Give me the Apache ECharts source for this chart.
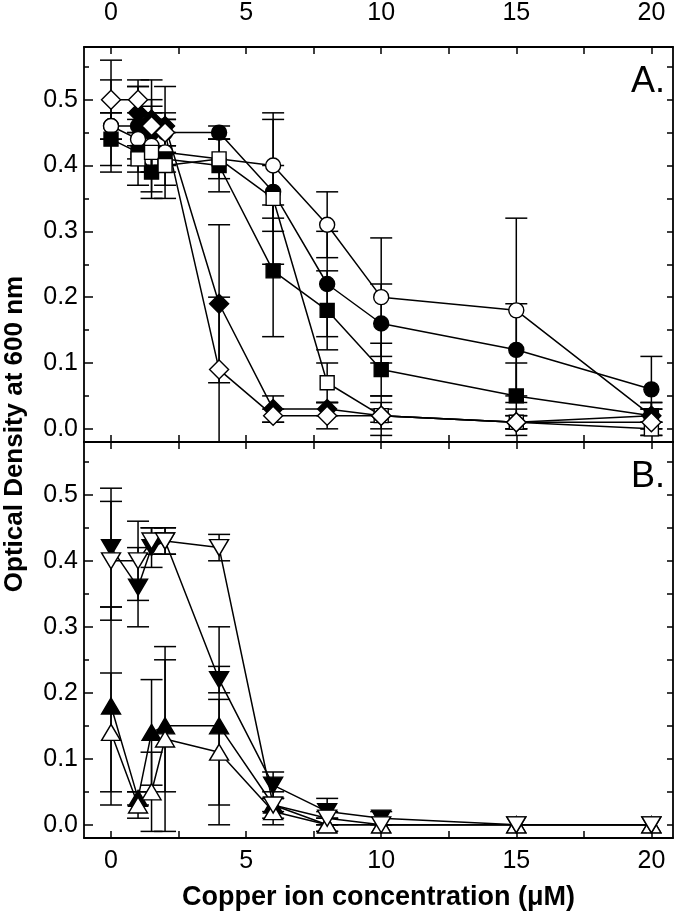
<!DOCTYPE html>
<html>
<head>
<meta charset="utf-8">
<script src="https://cdn.jsdelivr.net/npm/echarts@6/dist/echarts.min.js"></script>
<style>
  html, body { margin: 0; padding: 0; background: #fff; }
  #chart { width: 680px; height: 912px; }
</style>
</head>
<body>
<div id="chart"></div>
<script>
// copper concentrations (µM) shared by every series
const xConc = [0, 1, 1.5, 2, 4, 6, 8, 10, 15, 20];

// axis ticks / labels
const xTickLabels = [0, 5, 10, 15, 20];
const xTicks = [0, 2.5, 5, 7.5, 10, 12.5, 15, 17.5, 20];
const yTickLabels = [0, 0.1, 0.2, 0.3, 0.4, 0.5];
const yMinorTicks = [0.05, 0.15, 0.25, 0.35, 0.45, 0.55];
const yAllTicks = [0, 0.05, 0.1, 0.15, 0.2, 0.25, 0.3, 0.35, 0.4, 0.45, 0.5, 0.55];

// panel A values (null = no point) and +/- errors
const filledCircleA = [0.46, 0.46, 0.45, 0.45, 0.45, 0.36, 0.22, 0.16, 0.12, 0.06];
const filledCircleAErr = [0.02, 0.06, 0.03, 0.03, 0.01, 0.11, 0.08, 0.06, 0.07, 0.05];
const openCircleA = [0.46, 0.44, 0.43, 0.42, null, 0.40, 0.31, 0.20, 0.18, 0.02];
const openCircleAErr = [0.07, 0.03, 0.07, 0.03, 0, 0.08, 0.05, 0.09, 0.14, 0.02];
const filledSquareA = [0.44, 0.42, 0.39, 0.41, 0.40, 0.24, 0.18, 0.09, 0.05, 0.02];
const filledSquareAErr = [0.04, 0.03, 0.04, 0.06, 0.04, 0.10, 0.06, 0.04, 0.05, 0.02];
const openSquareA = [null, 0.41, 0.42, 0.40, 0.41, 0.35, 0.07, 0.02, 0.01, 0.00];
const openSquareAErr = [0, 0.04, 0.03, 0.03, 0.03, 0.05, 0.03, 0.02, 0.01, 0.01];
const filledDiamondA = [null, 0.48, 0.47, 0.46, 0.19, 0.03, 0.03, 0.02, 0.01, 0.02];
const filledDiamondAErr = [0, 0.05, 0.02, 0.06, 0.12, 0.02, 0.01, 0.01, 0.01, 0.01];
const openDiamondA = [0.50, 0.50, 0.46, 0.45, 0.09, 0.02, 0.02, 0.02, 0.01, 0.01];
const openDiamondAErr = [0.06, 0.02, 0.07, 0.02, 0.11, 0.01, 0.02, 0.03, 0.02, 0.02];

// panel B values and +/- errors
const filledDownB = [0.42, 0.36, 0.42, 0.43, 0.22, 0.06, 0.02, 0.01, 0.00, 0.00];
const filledDownBErr = [0.09, 0.06, 0.03, 0.02, 0.02, 0.02, 0.02, 0.01, 0, 0];
const openDownB = [0.40, 0.40, 0.43, 0.43, 0.42, 0.03, 0.01, 0.00, 0.00, 0.00];
const openDownBErr = [0.09, 0.06, 0.02, 0.02, 0.02, 0.02, 0.01, 0, 0, 0];
const filledUpB = [0.18, 0.04, 0.14, 0.15, 0.15, 0.03, 0.00, 0.00, 0.00, 0.00];
const filledUpBErr = [0.15, 0.01, 0.08, 0.10, 0.15, 0.01, 0.01, 0, 0, 0];
const openUpB = [0.14, 0.03, 0.05, 0.13, 0.11, 0.02, 0.00, 0.00, 0.00, 0.00];
const openUpBErr = [0.09, 0.02, 0.06, 0.14, 0.08, 0.02, 0.01, 0, 0, 0];

const FONT = "'Liberation Sans', Arial, Helvetica, sans-serif";

const chart = echarts.init(document.getElementById('chart'), null, { renderer: 'canvas' });

const points = (vals) => xConc.map((x, i) => [x, vals[i]]).filter((p) => p[1] !== null);

const errPoints = (vals, errs) =>
  xConc
    .map((x, i) => (vals[i] === null || !errs[i] ? null : [x, vals[i] - errs[i], vals[i] + errs[i]]))
    .filter(Boolean);

function errorSeries(xi, yi, vals, errs) {
  return {
    type: 'custom',
    xAxisIndex: xi,
    yAxisIndex: yi,
    clip: true,
    silent: true,
    z: 1,
    data: errPoints(vals, errs),
    renderItem: (params, api) => {
      const x = api.value(0);
      const top = api.coord([x, api.value(2)]);
      const bot = api.coord([x, api.value(1)]);
      const hw = 11;
      const st = { stroke: '#000', lineWidth: 1.5 };
      return {
        type: 'group',
        children: [
          { type: 'line', shape: { x1: top[0], y1: top[1], x2: bot[0], y2: bot[1] }, style: st },
          { type: 'line', shape: { x1: top[0] - hw, y1: top[1], x2: top[0] + hw, y2: top[1] }, style: st },
          { type: 'line', shape: { x1: bot[0] - hw, y1: bot[1], x2: bot[0] + hw, y2: bot[1] }, style: st },
        ],
      };
    },
  };
}

function lineSeries(xi, yi, vals, symbol, size, filled, rotate) {
  return {
    type: 'line',
    xAxisIndex: xi,
    yAxisIndex: yi,
    data: points(vals),
    connectNulls: true,
    symbol: symbol,
    symbolSize: size,
    symbolRotate: rotate || 0,
    showAllSymbol: true,
    z: 3,
    animation: false,
    lineStyle: { color: '#000', width: 1.5 },
    itemStyle: {
      color: filled ? '#000' : '#fff',
      borderColor: '#000',
      borderWidth: 1.4,
    },
  };
}

const xAxisBase = (grid, pos, labels) => ({
  type: 'value',
  gridIndex: grid,
  position: pos,
  min: -1,
  max: 20.8,
  axisLine: { show: true, onZero: false, lineStyle: { color: '#000', width: 1.8 } },
  axisTick: { show: true, inside: true, length: 7, customValues: xTicks, lineStyle: { color: '#000', width: 1.5 } },
  axisLabel: {
    show: labels,
    customValues: xTickLabels,
    color: '#000',
    fontSize: 25,
    fontFamily: FONT,
    margin: pos === 'top' ? 21 : 11,
  },
  splitLine: { show: false },
});

const yAxisBase = (grid, pos, ticks, len, labels, line) => ({
  type: 'value',
  gridIndex: grid,
  position: pos,
  min: -0.02,
  max: 0.58,
  axisLine: { show: line, onZero: false, lineStyle: { color: '#000', width: 1.8 } },
  axisTick: { show: true, inside: true, length: len, customValues: ticks, lineStyle: { color: '#000', width: 1.5 } },
  axisLabel: {
    show: labels,
    customValues: yTickLabels,
    formatter: (v) => v.toFixed(1),
    color: '#000',
    fontSize: 25,
    fontFamily: FONT,
    margin: 6,
  },
  splitLine: { show: false },
});

const xA = xAxisBase(0, 'top', true);
const xAbottom = xAxisBase(0, 'bottom', false);
const xBtop = xAxisBase(1, 'top', false);
const xB = xAxisBase(1, 'bottom', true);
xB.name = 'Copper ion concentration (\u03BCM)';
xB.nameLocation = 'middle';
xB.nameGap = 46;
xB.nameTextStyle = { color: '#000', fontSize: 27, fontWeight: 'bold', fontFamily: FONT };

chart.setOption({
  backgroundColor: '#fff',
  animation: false,
  grid: [
    { left: 84, top: 47, width: 589, height: 395, containLabel: false, outerBoundsMode: 'none' },
    { left: 84, top: 442, width: 589, height: 396, containLabel: false, outerBoundsMode: 'none' },
  ],
  xAxis: [xA, xAbottom, xBtop, xB],
  yAxis: [
    yAxisBase(0, 'left', yTickLabels, 9, true, true),
    yAxisBase(0, 'left', yMinorTicks, 5, false, false),
    yAxisBase(0, 'right', yAllTicks, 6, false, true),
    yAxisBase(1, 'left', yTickLabels, 9, true, true),
    yAxisBase(1, 'left', yMinorTicks, 5, false, false),
    yAxisBase(1, 'right', yAllTicks, 6, false, true),
  ],
  graphic: [
    {
      type: 'text',
      x: 15,
      y: 434,
      rotation: Math.PI / 2,
      style: {
        text: 'Optical Density at 600 nm',
        fill: '#000',
        font: 'bold 26px ' + FONT,
        textAlign: 'center',
        textVerticalAlign: 'middle',
      },
    },
    {
      type: 'text',
      x: 665,
      y: 82,
      style: { text: 'A.', fill: '#000', font: '36px ' + FONT, textAlign: 'right', textVerticalAlign: 'middle' },
    },
    {
      type: 'text',
      x: 665,
      y: 477,
      style: { text: 'B.', fill: '#000', font: '36px ' + FONT, textAlign: 'right', textVerticalAlign: 'middle' },
    },
  ],
  series: [
    // panel A error bars
    errorSeries(0, 0, filledCircleA, filledCircleAErr),
    errorSeries(0, 0, openCircleA, openCircleAErr),
    errorSeries(0, 0, filledSquareA, filledSquareAErr),
    errorSeries(0, 0, openSquareA, openSquareAErr),
    errorSeries(0, 0, filledDiamondA, filledDiamondAErr),
    errorSeries(0, 0, openDiamondA, openDiamondAErr),
    // panel A lines + markers
    lineSeries(0, 0, filledCircleA, 'circle', 15, true),
    lineSeries(0, 0, openCircleA, 'circle', 15, false),
    lineSeries(0, 0, filledSquareA, 'rect', 14, true),
    lineSeries(0, 0, openSquareA, 'rect', 14, false),
    lineSeries(0, 0, filledDiamondA, 'diamond', 19, true),
    lineSeries(0, 0, openDiamondA, 'diamond', 19, false),
    // panel B error bars
    errorSeries(3, 3, filledUpB, filledUpBErr),
    errorSeries(3, 3, openUpB, openUpBErr),
    errorSeries(3, 3, filledDownB, filledDownBErr),
    errorSeries(3, 3, openDownB, openDownBErr),
    // panel B lines + markers
    lineSeries(3, 3, filledUpB, 'triangle', [19, 16], true),
    lineSeries(3, 3, openUpB, 'triangle', [19, 16], false),
    lineSeries(3, 3, filledDownB, 'triangle', [19, 16], true, 180),
    lineSeries(3, 3, openDownB, 'triangle', [19, 16], false, 180),
  ],
});
</script>
</body>
</html>
